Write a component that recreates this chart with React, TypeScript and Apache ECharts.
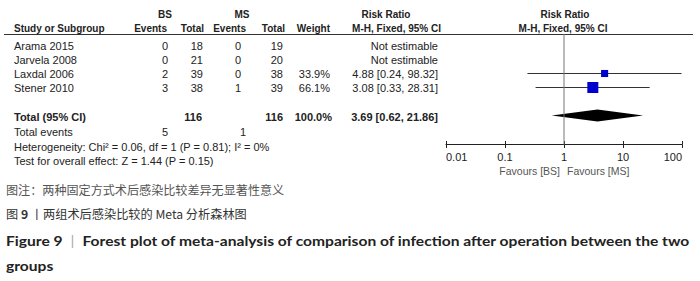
import React, { useEffect, useRef } from "react";
import * as echarts from "echarts";

// ---- data ----
const studies = ["Arama 2015", "Jarvela 2008", "Laxdal 2006", "Stener 2010"];
const bsEvents = [0, 0, 2, 3];
const bsTotal = [18, 21, 39, 38];
const msEvents = [0, 0, 0, 1];
const msTotal = [19, 20, 38, 39];
const weights: (number | null)[] = [null, null, 33.9, 66.1];
const ratio: (number | null)[] = [null, null, 4.88, 3.08];
const ciLow: (number | null)[] = [null, null, 0.24, 0.33];
const ciHigh: (number | null)[] = [null, null, 98.32, 28.31];
const pooled = { rr: 3.69, lo: 0.62, hi: 21.86, bsTotal: 116, msTotal: 116, weight: 100.0, bsEvents: 5, msEvents: 1 };
const heterogeneityText = "Heterogeneity: Chi\u00b2 = 0.06, df = 1 (P = 0.81); I\u00b2 = 0%";
const overallText = "Test for overall effect: Z = 1.44 (P = 0.15)";
const xTickLabels = ["0.01", "0.1", "1", "10", "100"];
const favourLeft = "Favours [BS]";
const favourRight = "Favours [MS]";
const caption1 = "图注：两种固定方式术后感染比较差异无显著性意义";
const caption2a = "图 ";
const caption2b = "9";
const caption2c = " 丨两组术后感染比较的 Meta 分析森林图";
const caption3a = "Figure 9";
const caption3b = "Forest plot of meta-analysis of comparison of infection after operation between the two";
const caption4 = "groups";

// ---- layout ----
const ROW0 = 45.5;
const STEP = 14;
const LINE_Y = 34;
const AXIS_Y = 144.5;
const TOTAL_ROW = 5;
const FONT = "'Liberation Sans', Arial, sans-serif";
const TXT = "#222";

const rowY = (i: number) => ROW0 + STEP * i;

function txt(text: string, x: number, y: number, align: string, opts: any = {}) {
  return {
    type: "text",
    x,
    y,
    silent: true,
    scaleX: opts.scaleX || 1,
    style: {
      text,
      x: 0,
      y: 0,
      align,
      verticalAlign: "middle",
      fontSize: opts.size || 11,
      fontFamily: opts.family || FONT,
      fontWeight: opts.bold ? "bold" : "normal",
      fill: opts.color || TXT,
    },
  };
}

const fmtRR = (r: number | null, l: number | null, h: number | null) =>
  r == null ? "Not estimable" : `${r.toFixed(2)} [${l!.toFixed(2)}, ${h!.toFixed(2)}]`;

export default function App() {
  const ref = useRef<HTMLDivElement>(null);
  useEffect(() => {
    document.body.style.margin = "0";
    const chart = echarts.init(ref.current!, null, { renderer: "svg" });

    const g: any[] = [];
    const H = { bold: true, size: 10 };
    // header
    g.push(txt("BS", 165, 14, "center", H));
    g.push(txt("MS", 242, 14, "center", H));
    g.push(txt("Risk Ratio", 386, 14, "center", H));
    g.push(txt("Risk Ratio", 565, 14, "center", H));
    g.push(txt("Study or Subgroup", 14, 28, "left", H));
    g.push(txt("Events", 167, 28, "right", H));
    g.push(txt("Total", 204, 28, "right", H));
    g.push(txt("Events", 246, 28, "right", H));
    g.push(txt("Total", 285, 28, "right", H));
    g.push(txt("Weight", 330, 28, "right", H));
    g.push(txt("M-H, Fixed, 95% CI", 441, 28, "right", H));
    g.push(txt("M-H, Fixed, 95% CI", 563, 28, "center", H));
    g.push({ type: "line", silent: true, shape: { x1: 4, y1: LINE_Y + 0.5, x2: 693, y2: LINE_Y + 0.5 }, style: { stroke: "#333", lineWidth: 1 } });

    studies.forEach((s, i) => {
      const y = rowY(i);
      g.push(txt(s, 14, y, "left"));
      g.push(txt(String(bsEvents[i]), 168, y, "right"));
      g.push(txt(String(bsTotal[i]), 203, y, "right"));
      g.push(txt(String(msEvents[i]), 241, y, "right"));
      g.push(txt(String(msTotal[i]), 283, y, "right"));
      if (weights[i] != null) g.push(txt(weights[i]!.toFixed(1) + "%", 330, y, "right"));
      g.push(txt(fmtRR(ratio[i], ciLow[i], ciHigh[i]), 438, y, "right"));
    });

    const ty = rowY(TOTAL_ROW) + 1;
    g.push(txt("Total (95% CI)", 14, ty, "left", { bold: true }));
    g.push(txt(String(pooled.bsTotal), 202, ty, "right", { bold: true }));
    g.push(txt(String(pooled.msTotal), 283, ty, "right", { bold: true }));
    g.push(txt(pooled.weight.toFixed(1) + "%", 332, ty, "right", { bold: true }));
    g.push(txt(fmtRR(pooled.rr, pooled.lo, pooled.hi), 438, ty, "right", { bold: true }));
    g.push(txt("Total events", 14, 132, "left"));
    g.push(txt(String(pooled.bsEvents), 168, 132, "right"));
    g.push(txt(String(pooled.msEvents), 246, 132, "right"));
    g.push(txt(heterogeneityText, 14, 147, "left", { size: 11 }));
    g.push(txt(overallText, 14, 161, "left", { size: 11 }));

    g.push(txt(favourLeft, 560, 171, "right", { color: "#555", size: 10.5 }));
    g.push(txt(favourRight, 567, 171, "left", { color: "#555", size: 10.5 }));

    // captions
    const CJK = "'Noto Sans CJK SC', sans-serif";
    g.push(txt(caption1, 6, 189, "left", { size: 12.1, family: CJK, color: "#555" }));
    g.push({
      type: "text",
      x: 6,
      y: 214,
      silent: true,
      style: {
        text: `{a|${caption2a}}{b|${caption2b}}{a|${caption2c}}`,
        verticalAlign: "middle",
        align: "left",
        rich: {
          a: { fontSize: 12.2, fontFamily: CJK, fill: "#333", fontWeight: "normal" },
          b: { fontSize: 12.2, fontFamily: CJK, fill: "#333", fontWeight: "bold" },
        },
      },
    });
    const LAT = "Lato, sans-serif";
    g.push({
      type: "text",
      x: 6,
      y: 240,
      silent: true,
      scaleX: 1.115,
      style: {
        text: `{b|${caption3a}}{s|  |  }{b|${caption3b}}`,
        verticalAlign: "middle",
        align: "left",
        rich: {
          b: { fontSize: 14, fontFamily: LAT, fill: "#222", fontWeight: "bold" },
          s: { fontSize: 14, fontFamily: LAT, fill: "#aaa", fontWeight: "normal" },
        },
      },
    });
    g.push(txt(caption4, 6, 265, "left", { size: 14, family: LAT, bold: true, color: "#222", scaleX: 1.115 }));

    const yMin = (LINE_Y - ROW0) / STEP;
    const yMax = (AXIS_Y - ROW0) / STEP;

    const studyData = studies
      .map((_, i) => (ratio[i] == null ? null : [ciLow[i], ciHigh[i], ratio[i], i, weights[i]]))
      .filter((d) => d != null);

    const option: any = {
      animation: false,
      backgroundColor: "#fff",
      grid: { left: 446, right: 18, top: LINE_Y, bottom: 281 - AXIS_Y },
      xAxis: [
        {
          type: "log",
          logBase: 10,
          min: 0.01,
          max: 100,
          position: "bottom",
          axisLine: { show: true, onZero: false, lineStyle: { color: "#222", width: 1 } },
          axisTick: { show: true, inside: false, length: 3.5, lineStyle: { color: "#222" } },
          minorTick: { show: false },
          splitLine: { show: false },
          axisLabel: {
            margin: 7,
            fontSize: 11,
            fontFamily: FONT,
            color: "#222",
            alignMinLabel: "left",
            alignMaxLabel: "right",
            formatter: (_v: number, idx: number) => xTickLabels[idx] ?? "",
          },
        },
        {
          type: "log",
          logBase: 10,
          min: 0.01,
          max: 100,
          position: "bottom",
          axisLine: { show: false, onZero: false },
          axisTick: { show: true, inside: true, length: 3.5, lineStyle: { color: "#222" } },
          axisLabel: { show: false },
          splitLine: { show: false },
        },
      ],
      yAxis: { type: "value", inverse: true, min: yMin, max: yMax, show: false, splitLine: { show: false } },
      series: [
        {
          type: "line",
          silent: true,
          symbol: "none",
          data: [
            [1, yMin],
            [1, yMax],
          ],
          lineStyle: { color: "#777", width: 1 },
        },
        {
          type: "custom",
          silent: true,
          data: studyData,
          renderItem: (_p: any, api: any) => {
            const lo = api.coord([api.value(0), api.value(3)]);
            const hi = api.coord([api.value(1), api.value(3)]);
            const c = api.coord([api.value(2), api.value(3)]);
            const s = 11 * Math.pow(api.value(4) / 66.1, 0.66);
            return {
              type: "group",
              children: [
                { type: "line", shape: { x1: lo[0], y1: c[1], x2: hi[0], y2: c[1] }, style: { stroke: "#333", lineWidth: 1 } },
                { type: "rect", shape: { x: c[0] - s / 2, y: c[1] - s / 2, width: s, height: s }, style: { fill: "#0000cc" } },
              ],
            };
          },
        },
        {
          type: "custom",
          silent: true,
          data: [[pooled.lo, pooled.hi, pooled.rr, TOTAL_ROW]],
          renderItem: (_p: any, api: any) => {
            const lo = api.coord([api.value(0), api.value(3)]);
            const hi = api.coord([api.value(1), api.value(3)]);
            const c = api.coord([api.value(2), api.value(3)]);
            const h = 6;
            return {
              type: "polygon",
              shape: { points: [[lo[0], c[1]], [c[0], c[1] - h], [hi[0], c[1]], [c[0], c[1] + h]] },
              style: { fill: "#000" },
            };
          },
        },
      ],
      graphic: g,
    };
    chart.setOption(option);
    return () => chart.dispose();
  }, []);
  return <div ref={ref} style={{ width: 700, height: 281 }} />;
}
